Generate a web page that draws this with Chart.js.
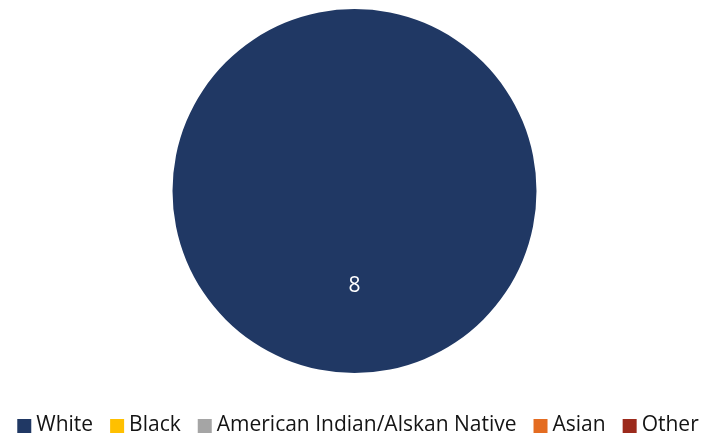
<!DOCTYPE html>
<html>
<head>
<meta charset="utf-8">
<script src="https://cdn.jsdelivr.net/npm/chart.js@4"></script>
<style>
    html, body { margin: 0; padding: 0; background: #ffffff; }
    #chart_box { width: 709px; height: 441px; position: relative; }
</style>
</head>
<body>
<div id="chart_box"><canvas id="race_canvas"></canvas></div>
<script>
const race_labels = ["White", "Black", "American Indian/Alskan Native", "Asian", "Other"];
const race_counts = [8, 0, 0, 0, 0];
const race_colors = ["#203864", "#FFC000", "#A5A5A5", "#E46C21", "#9C2A1C"];

// writes each non-zero count in the middle of its slice
const slice_labels = {
    id: "slice_labels",
    afterDatasetsDraw(chart){
        let ctx = chart.ctx;
        let meta = chart.getDatasetMeta(0);
        ctx.save();
        ctx.fillStyle = "#ffffff";
        ctx.font = "21px 'Open Sans'";
        ctx.textAlign = "center";
        ctx.textBaseline = "middle";
        meta.data.forEach((arc, i)=>{
            let value = chart.data.datasets[0].data[i];
            if(value == 0) return;
            let pos = arc.tooltipPosition();
            ctx.fillText(String(value), pos.x, pos.y + 4);
        });
        ctx.restore();
    }
};

// one-row legend under the pie, tighter than the built-in one
const bottom_legend = {
    id: "bottom_legend",
    afterDraw(chart){
        let ctx = chart.ctx;
        let box = 14, gap = 5, spacing = 17;
        let row_y = 426;
        ctx.save();
        ctx.font = "21px 'Open Sans'";
        ctx.textBaseline = "middle";
        let widths = chart.data.labels.map(l => ctx.measureText(l).width);
        let total = widths.reduce((a, w) => a + box + gap + w, 0) + spacing * (widths.length - 1);
        let x = 358 - total / 2;
        chart.data.labels.forEach((label, i)=>{
            ctx.fillStyle = chart.data.datasets[0].backgroundColor[i];
            ctx.fillRect(x, row_y - box / 2, box, box);
            x += box + gap;
            ctx.fillStyle = "#141414";
            ctx.fillText(label, x, row_y - 1);
            x += widths[i] + spacing;
        });
        ctx.restore();
    }
};

document.addEventListener("DOMContentLoaded", ()=>{
    let canvas = document.getElementById("race_canvas");
    new Chart(canvas, {
        type: "pie",
        data: {
            labels: race_labels,
            datasets: [{
                data: race_counts,
                backgroundColor: race_colors,
                borderWidth: 0
            }]
        },
        options: {
            responsive: true,
            maintainAspectRatio: false,
            animation: false,
            layout: { padding: { top: 9, bottom: 68 } },
            plugins: {
                tooltip: { enabled: false },
                legend: { display: false }
            }
        },
        plugins: [slice_labels, bottom_legend]
    });
});
</script>
</body>
</html>
